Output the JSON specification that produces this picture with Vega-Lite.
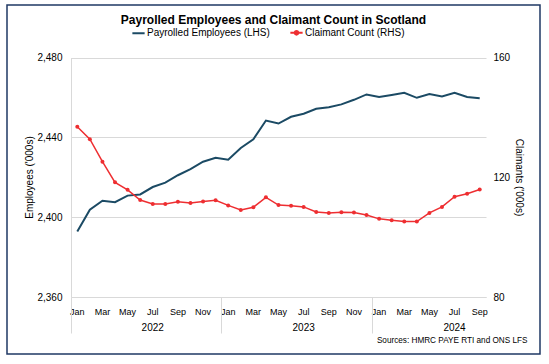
{
  "$schema": "https://vega.github.io/schema/vega-lite/v6.json",
  "width": 533,
  "height": 349,
  "autosize": {"type": "none"},
  "padding": {"left": 7, "top": 5, "right": 9, "bottom": 10},
  "background": "white",
  "config": {
    "font": "Liberation Sans",
    "view": {"stroke": "#1F3864", "strokeWidth": 1.5}
  },
  "title": {
    "text": "Payrolled Employees and Claimant Count in Scotland",
    "fontSize": 12,
    "fontWeight": "bold",
    "color": "black",
    "anchor": "middle",
    "offset": -22
  },
  "data": {
    "values": [
      {"month": "2022-01", "employees": 2392.8, "claimants": 136.9},
      {"month": "2022-02", "employees": 2403.7, "claimants": 132.7},
      {"month": "2022-03", "employees": 2408.2, "claimants": 125.2},
      {"month": "2022-04", "employees": 2407.5, "claimants": 118.3},
      {"month": "2022-05", "employees": 2410.8, "claimants": 115.8},
      {"month": "2022-06", "employees": 2411.4, "claimants": 112.4},
      {"month": "2022-07", "employees": 2415.1, "claimants": 111.1},
      {"month": "2022-08", "employees": 2417.3, "claimants": 111.1},
      {"month": "2022-09", "employees": 2421.0, "claimants": 111.8},
      {"month": "2022-10", "employees": 2424.1, "claimants": 111.4},
      {"month": "2022-11", "employees": 2427.8, "claimants": 111.9},
      {"month": "2022-12", "employees": 2429.8, "claimants": 112.3},
      {"month": "2023-01", "employees": 2428.8, "claimants": 110.6},
      {"month": "2023-02", "employees": 2434.7, "claimants": 109.1},
      {"month": "2023-03", "employees": 2439.0, "claimants": 110.0},
      {"month": "2023-04", "employees": 2448.4, "claimants": 113.3},
      {"month": "2023-05", "employees": 2446.9, "claimants": 110.7},
      {"month": "2023-06", "employees": 2450.3, "claimants": 110.5},
      {"month": "2023-07", "employees": 2451.8, "claimants": 110.1},
      {"month": "2023-08", "employees": 2454.3, "claimants": 108.4},
      {"month": "2023-09", "employees": 2455.1, "claimants": 108.1},
      {"month": "2023-10", "employees": 2456.5, "claimants": 108.3},
      {"month": "2023-11", "employees": 2458.8, "claimants": 108.2},
      {"month": "2023-12", "employees": 2461.5, "claimants": 107.4},
      {"month": "2024-01", "employees": 2460.2, "claimants": 106.1},
      {"month": "2024-02", "employees": 2461.2, "claimants": 105.6},
      {"month": "2024-03", "employees": 2462.3, "claimants": 105.2},
      {"month": "2024-04", "employees": 2459.8, "claimants": 105.2},
      {"month": "2024-05", "employees": 2461.7, "claimants": 108.1},
      {"month": "2024-06", "employees": 2460.5, "claimants": 110.1},
      {"month": "2024-07", "employees": 2462.3, "claimants": 113.5},
      {"month": "2024-08", "employees": 2460.2, "claimants": 114.5},
      {"month": "2024-09", "employees": 2459.6, "claimants": 115.9}
    ]
  },
  "layer": [
    {
      "mark": {"type": "line", "strokeWidth": 2},
      "encoding": {
        "x": {
          "field": "month",
          "type": "ordinal",
          "bandPosition": 0.5,
          "scale": {"type": "band", "range": [64, 479], "paddingInner": 0, "paddingOuter": 0},
          "axis": {
            "orient": "bottom",
            "offset": -57,
            "title": null,
            "grid": false,
            "domainColor": "#d9d9d9",
            "domainWidth": 1,
            "ticks": false,
            "tickSize": 0,
            "bandPosition": 1,
            "labelAngle": 0,
            "labelFontSize": 9,
            "labelColor": "black",
            "labelBaseline": "middle",
            "labelPadding": 14,
            "labelOverlap": false,
            "labelFlush": false,
            "labelBound": false,
            "labelExpr": "toNumber(substring(datum.value,5,7)) % 2 == 1 ? ['Jan','Feb','Mar','Apr','May','Jun','Jul','Aug','Sep','Oct','Nov','Dec'][toNumber(substring(datum.value,5,7))-1] : ''"
          }
        },
        "y": {
          "field": "employees",
          "type": "quantitative",
          "scale": {"domain": [2360, 2480], "range": [292, 52.5], "nice": false, "zero": false},
          "axis": {
            "orient": "left",
            "offset": -64,
            "values": [2360, 2400, 2440, 2480],
            "format": ",.0f",
            "domainColor": "#d9d9d9",
            "ticks": false,
            "tickSize": 0,
            "labelPadding": 9,
            "labelFontSize": 10,
            "labelColor": "black",
            "grid": true,
            "gridColor": "#d9d9d9",
            "title": "Employees ('000s)",
            "titleFontSize": 10,
            "titleFontWeight": "normal",
            "titleColor": "black",
            "titleAngle": -90,
            "titleX": -42,
            "titleY": 172,
            "titleAlign": "center",
            "titleBaseline": "middle"
          }
        },
        "color": {
          "datum": "Payrolled Employees (LHS)",
          "type": "nominal",
          "scale": {
            "domain": ["Payrolled Employees (LHS)", "Claimant Count (RHS)"],
            "range": ["#1B4A64", "#EE2E31"]
          },
          "legend": {
            "orient": "none",
            "legendX": 124,
            "legendY": 20,
            "direction": "horizontal",
            "title": null,
            "labelFontSize": 10,
            "labelColor": "black",
            "symbolSize": 150,
            "symbolStrokeWidth": 2,
            "columnPadding": 16,
            "labelOffset": 1,
            "encode": {
              "symbols": {
                "update": {
                  "shape": {"signal": "datum.label == 'Claimant Count (RHS)' ? 'M-1,0H1M0.3,0A0.3,0.3 0 1 1 -0.3,0A0.3,0.3 0 1 1 0.3,0' : 'stroke'"}
                }
              }
            }
          }
        }
      }
    },
    {
      "mark": {"type": "line", "strokeWidth": 1.5, "point": {"size": 16, "filled": true}},
      "encoding": {
        "x": {
          "field": "month",
          "type": "ordinal",
          "bandPosition": 0.5,
          "scale": {"type": "band", "range": [64, 479], "paddingInner": 0, "paddingOuter": 0},
          "axis": {
            "orient": "bottom",
            "offset": -57,
            "grid": false,
            "domain": false,
            "ticks": true,
            "tickSize": 36,
            "tickWidth": 1,
            "tickColor": {"condition": {"test": "substring(datum.value,5,7) == '01'", "value": "#d9d9d9"}, "value": "transparent"},
            "bandPosition": 0,
            "labelAngle": 0,
            "labelFontSize": 10,
            "labelColor": "black",
            "labelBaseline": "middle",
            "labelPadding": -6,
            "labelOverlap": false,
            "labelFlush": false,
            "labelBound": false,
            "labelExpr": "substring(datum.value,5,7) == '07' ? substring(datum.value,0,4) : ''",
            "title": "Sources: HMRC PAYE RTI and ONS LFS",
            "titleFontSize": 8.2,
            "titleFontWeight": "normal",
            "titleColor": "black",
            "titleAnchor": "end",
            "titleAlign": "right",
            "titleBaseline": "middle",
            "titleX": 520,
            "titleY": 43
          }
        },
        "y": {
          "field": "claimants",
          "type": "quantitative",
          "scale": {"domain": [80, 160], "range": [292, 52.5], "nice": false, "zero": false},
          "axis": {
            "orient": "right",
            "offset": -54,
            "values": [80, 120, 160],
            "domain": false,
            "ticks": false,
            "tickSize": 0,
            "grid": false,
            "labelPadding": 7,
            "labelFontSize": 10,
            "labelColor": "black",
            "title": "Claimants ('000s)",
            "titleFontSize": 10,
            "titleFontWeight": "normal",
            "titleColor": "black",
            "titleAngle": 90,
            "titleX": 32,
            "titleY": 172,
            "titleAlign": "center",
            "titleBaseline": "middle"
          }
        },
        "color": {"datum": "Claimant Count (RHS)", "type": "nominal"}
      }
    }
  ],
  "resolve": {"scale": {"y": "independent"}, "axis": {"x": "independent"}}
}
